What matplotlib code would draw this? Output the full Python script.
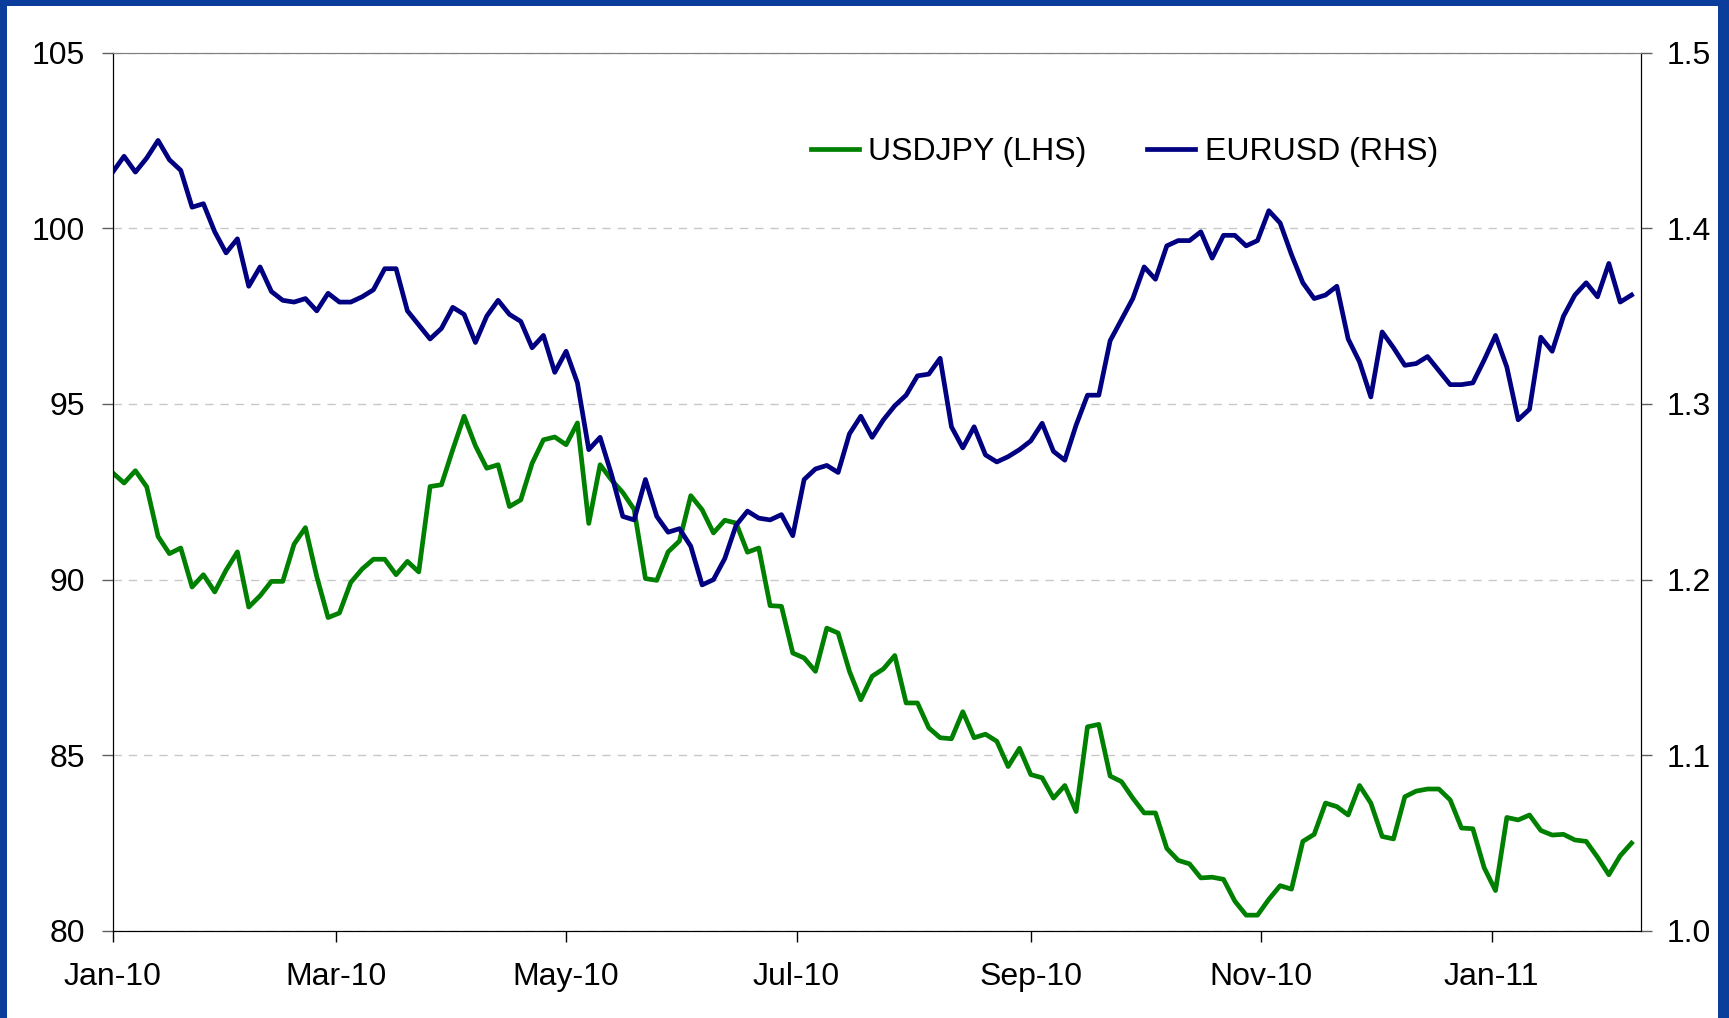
import numpy as np
import pandas as pd
import matplotlib
matplotlib.use('Agg')
import matplotlib.pyplot as plt
import matplotlib.dates as mdates
from matplotlib.ticker import FormatStrFormatter
from matplotlib.patches import Rectangle

plt.rcParams['font.family'] = ['Liberation Sans', 'DejaVu Sans']

# USDJPY (left axis), read every 3 days from 1 Jan 2010
usdjpy = [93.04, 92.75, 93.10, 92.64, 91.23, 90.74, 90.90, 89.79, 90.14, 89.65,
          90.27, 90.79, 89.22, 89.54, 89.95, 89.95, 91.01, 91.48, 90.09, 88.92,
          89.05, 89.92, 90.30, 90.58, 90.58, 90.14, 90.52, 90.22, 92.65, 92.70,
          93.70, 94.65, 93.81, 93.17, 93.27,
          92.08, 92.27, 93.31, 93.98, 94.06, 93.84, 94.46, 91.60, 93.27, 92.84,
          92.48, 92.00, 90.03, 89.98, 90.79, 91.10,
          92.39, 91.99, 91.33, 91.69, 91.61, 90.78, 90.90, 89.26, 89.24, 87.91,
          87.77, 87.39, 88.62, 88.48, 87.39, 86.58, 87.25, 87.46,
          87.84, 86.49, 86.49, 85.78, 85.50, 85.47, 86.24, 85.50, 85.60, 85.40,
          84.68, 85.20, 84.45, 84.36, 83.78, 84.14, 83.40, 85.81, 85.88, 84.41,
          84.25, 83.78, 83.36, 83.36, 82.35, 82.01, 81.91, 81.51, 81.53, 81.47,
          80.85, 80.45, 80.45, 80.90,
          81.29, 81.19, 82.55, 82.75, 83.64, 83.54, 83.30, 84.14, 83.64, 82.69,
          82.62, 83.82, 83.98, 84.04, 84.04, 83.73, 82.93, 82.91, 81.80, 81.15,
          83.23, 83.16, 83.30, 82.86, 82.73, 82.75, 82.59, 82.55, 82.10, 81.60,
          82.14, 82.50]

# EURUSD (right axis)
eurusd = [1.432, 1.441, 1.432, 1.440, 1.450, 1.439, 1.433, 1.412, 1.414, 1.398,
          1.386, 1.394, 1.367, 1.378, 1.364, 1.359, 1.358, 1.360, 1.353, 1.363,
          1.358, 1.358, 1.361, 1.365, 1.377, 1.377, 1.353, 1.345, 1.337, 1.343,
          1.355, 1.351, 1.335, 1.350, 1.359,
          1.351, 1.347, 1.332, 1.339, 1.318, 1.330, 1.312, 1.274, 1.281, 1.260,
          1.236, 1.234, 1.257, 1.236, 1.227, 1.229,
          1.219, 1.197, 1.200, 1.212, 1.231, 1.239, 1.235, 1.234, 1.237, 1.225,
          1.257, 1.263, 1.265, 1.261, 1.283, 1.293, 1.281, 1.291,
          1.299, 1.305, 1.316, 1.317, 1.326, 1.287, 1.275, 1.287, 1.271, 1.267,
          1.270, 1.274, 1.279, 1.289, 1.273, 1.268, 1.288, 1.305, 1.305, 1.336,
          1.348, 1.360, 1.378, 1.371, 1.390, 1.393, 1.393, 1.398, 1.383, 1.396,
          1.396, 1.390, 1.393, 1.410,
          1.403, 1.385, 1.369, 1.360, 1.362, 1.367, 1.337, 1.324, 1.304, 1.341,
          1.332, 1.322, 1.323, 1.327, 1.319, 1.311, 1.311, 1.312, 1.325, 1.339,
          1.321, 1.291, 1.297, 1.338, 1.330, 1.350, 1.362, 1.369, 1.361, 1.380,
          1.358, 1.362]

dates = pd.date_range('2010-01-01', periods=len(usdjpy), freq='3D')
month_ticks = pd.to_datetime(['2010-01-01', '2010-03-01', '2010-05-01', '2010-07-01',
                              '2010-09-01', '2010-11-01', '2011-01-01'])
left_ticks = [80, 85, 90, 95, 100, 105]
right_ticks = [1.0, 1.1, 1.2, 1.3, 1.4, 1.5]

fig = plt.figure(figsize=(17.29, 10.18), dpi=100, facecolor='#0B3D9C')
# white panel inside blue frame
fig.patches.append(Rectangle((7 / 1729, 0), 1711 / 1729, 1012 / 1018,
                             transform=fig.transFigure, facecolor='white',
                             edgecolor='none', zorder=-10))

ax = fig.add_axes([0.0652, 0.0855, 0.8837, 0.8628])
ax.set_facecolor('none')
ax2 = ax.twinx()

l1, = ax.plot(dates, usdjpy, color='#008000', lw=3.4, solid_joinstyle='round',
              label='USDJPY (LHS)')
l2, = ax2.plot(dates, eurusd, color='#000080', lw=3.4, solid_joinstyle='round',
               label='EURUSD (RHS)')

ax.set_xlim(pd.Timestamp('2010-01-01'), pd.Timestamp('2011-02-09 10:00'))
ax.set_ylim(80, 105)
ax2.set_ylim(1.0, 1.5)
ax.set_yticks(left_ticks)
ax2.set_yticks(right_ticks)
ax2.yaxis.set_major_formatter(FormatStrFormatter('%.1f'))
ax.set_xticks(month_ticks)
ax.xaxis.set_major_formatter(mdates.DateFormatter('%b-%y'))

ax.yaxis.grid(True, color='#C8C8C8', linestyle=(0, (6, 5)), lw=1)
ax.set_axisbelow(True)

ax.tick_params(axis='y', direction='out', length=8, width=1, color='#606060',
               pad=12, labelsize=23)
ax.tick_params(axis='x', direction='out', length=8, width=1, color='black',
               pad=14, labelsize=23)
ax2.tick_params(axis='y', direction='out', length=8, width=1, color='#606060',
                pad=11, labelsize=23)

for a in (ax, ax2):
    a.spines['top'].set_color('#808080')
    a.spines['left'].set_color('black')
    a.spines['right'].set_color('black')
    a.spines['bottom'].set_color('black')

fig.legend([l1, l2], ['USDJPY (LHS)', 'EURUSD (RHS)'], loc='center',
           bbox_to_anchor=(0.6504, 0.8507), ncol=2, frameon=False, fontsize=23,
           handlelength=1.5, handletextpad=0.3, columnspacing=1.9)

fig.savefig('out.png', dpi=100, facecolor=fig.get_facecolor())
